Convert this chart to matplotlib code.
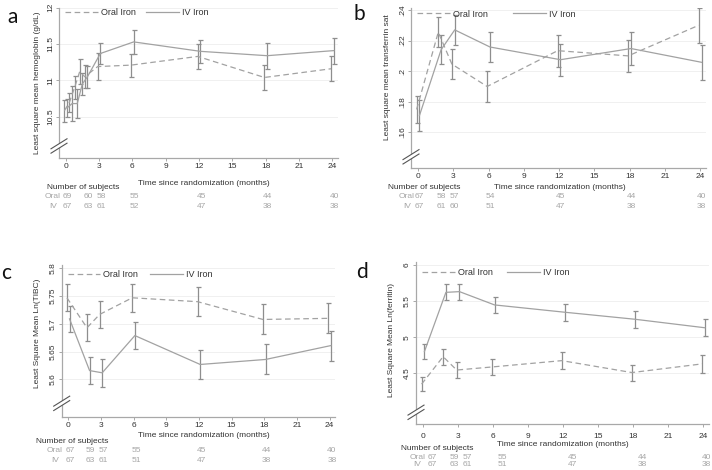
import matplotlib
matplotlib.use("Agg")
import matplotlib.pyplot as plt
import matplotlib.transforms as mtransforms
from matplotlib.lines import Line2D
from matplotlib.patches import Polygon

plt.rcParams['font.family'] = ['Liberation Sans', 'DejaVu Sans']

# =================================
# Data
# =================================
# visit times in months (early visits every 2 weeks for hemoglobin)
t_hgb = [0, 0.46, 0.92, 1.38, 1.84, 3, 6, 12, 18, 24]
t_main = [0, 1.84, 3, 6, 12, 18, 24]
xticks = [0, 3, 6, 9, 12, 15, 18, 21, 24]

# a: hemoglobin
oral_a = [10.58, 10.70, 10.90, 11.12, 11.05, 11.19, 11.21, 11.33, 11.04, 11.16]
oral_a_err = [0.15, 0.13, 0.16, 0.17, 0.16, 0.19, 0.16, 0.17, 0.17, 0.17]
iv_a = [10.62, 10.68, 10.68, 10.95, 11.05, 11.37, 11.53, 11.40, 11.34, 11.41]
iv_a_err = [0.12, 0.24, 0.20, 0.15, 0.15, 0.15, 0.17, 0.16, 0.18, 0.18]

# b: transferrin saturation
oral_b = [0.175, 0.2255, 0.2046, 0.190, 0.2134, 0.2100, 0.2300]
oral_b_err = [0.0090, 0.0097, 0.0097, 0.0100, 0.0105, 0.0105, 0.0115]
iv_b = [0.171, 0.2140, 0.2270, 0.2158, 0.2075, 0.2148, 0.2058]
iv_b_err = [0.0100, 0.0095, 0.0096, 0.0098, 0.0105, 0.0108, 0.0115]

# c: ln(TIBC)
oral_c = [5.747, 5.693, 5.717, 5.747, 5.740, 5.708, 5.710]
oral_c_err = [0.024, 0.024, 0.025, 0.025, 0.026, 0.027, 0.027]
iv_c = [5.709, 5.616, 5.612, 5.679, 5.627, 5.636, 5.661]
iv_c_err = [0.023, 0.024, 0.025, 0.025, 0.026, 0.027, 0.027]

# d: ln(ferritin)
oral_d = [4.35, 4.73, 4.545, 4.587, 4.675, 4.51, 4.63]
oral_d_err = [0.10, 0.11, 0.11, 0.11, 0.12, 0.11, 0.12]
iv_d = [4.80, 5.62, 5.63, 5.446, 5.345, 5.248, 5.13]
iv_d_err = [0.10, 0.11, 0.11, 0.11, 0.12, 0.12, 0.12]

# number of subjects
n_times = [0, 1.84, 3, 6, 12, 18, 24]
n_oral_a = [69, 60, 58, 55, 45, 44, 40]
n_iv_a = [67, 63, 61, 52, 47, 38, 38]
n_oral_b = [67, 58, 57, 54, 45, 44, 40]
n_iv_b = [67, 61, 60, 51, 47, 38, 38]
n_oral_c = [67, 59, 57, 55, 45, 44, 40]
n_iv_c = [67, 63, 61, 51, 47, 38, 38]
n_oral_d = [67, 59, 57, 55, 45, 44, 40]
n_iv_d = [67, 63, 61, 51, 47, 38, 38]

# =================================
# Style
# =================================
W, H = 712, 470
LINE = '#a2a2a2'
BAR = '#8e8e8e'
AXC = '#a8a8a8'
NUM = '#a6a6a6'
TXT = '#333333'
SHIFT = 0.12

fig = plt.figure(figsize=(W / 100, H / 100), dpi=100)


def px(x, y):
    return x / W, 1 - y / H


def add_axes(l, t, r, b):
    return fig.add_axes([l / W, 1 - b / H, (r - l) / W, (b - t) / H])


def ftext(x, y, s, **kw):
    fig.text(*px(x, y), s, **kw)


def break_mark(ax, yfrac):
    pos = ax.get_position()
    cx = pos.x0 * W
    cy = (1 - pos.y0 - yfrac * pos.height) * H
    dx, dy, gap = 8, 5, 2.2
    a1 = [(cx - dx, cy + dy - gap), (cx + dx, cy - dy - gap)]
    a2 = [(cx - dx, cy + dy + gap), (cx + dx, cy - dy + gap)]
    poly = [px(*a1[0]), px(*a1[1]), px(*a2[1]), px(*a2[0])]
    fig.add_artist(Polygon(poly, closed=True, facecolor='white',
                           edgecolor='none', transform=fig.transFigure, zorder=5))
    for seg in (a1, a2):
        xs = [px(*p)[0] for p in seg]
        ys = [px(*p)[1] for p in seg]
        fig.add_artist(Line2D(xs, ys, color='#555555', lw=0.8,
                              transform=fig.transFigure, zorder=6))


def panel(ax, t, oral, oral_err, iv, iv_err, ylim, yticks, ylabels, ylabel,
          ylab_x, ylab_y, colsp, leg_dy, xpad=1.2):
    to = [v - SHIFT for v in t]
    ti = [v + SHIFT for v in t]
    ax.errorbar(to, oral, yerr=oral_err, fmt='none', ecolor=BAR,
                elinewidth=0.9, capsize=1.8, capthick=0.9)
    ax.errorbar(ti, iv, yerr=iv_err, fmt='none', ecolor=BAR,
                elinewidth=0.9, capsize=1.8, capthick=0.9)
    l1, = ax.plot(to, oral, color=LINE, lw=0.9, dashes=(4.5, 2.8))
    l2, = ax.plot(ti, iv, color=LINE, lw=0.9)

    ax.set_xlim(-0.6, 24.5)
    ax.set_ylim(*ylim)
    ax.set_xticks(xticks)
    ax.set_xticklabels([str(v) for v in xticks])
    ax.set_yticks(yticks)
    ax.set_yticklabels(ylabels, rotation=90, va='center')
    ax.tick_params(axis='both', labelsize=6, length=2.5, width=0.7,
                   color=AXC, labelcolor=TXT, pad=1.2)
    ax.tick_params(axis='x', pad=xpad)
    for s in ('top', 'right'):
        ax.spines[s].set_visible(False)
    for s in ('left', 'bottom'):
        ax.spines[s].set_color(AXC)
        ax.spines[s].set_linewidth(0.9)
    ax.yaxis.grid(True, color='#f0f0f0', lw=0.7)
    ax.set_axisbelow(True)
    ax.set_ylabel(ylabel, fontsize=6, color=TXT)
    ax.yaxis.set_label_coords(ylab_x, ylab_y)
    ax.legend([l1, l2], ['Oral Iron', 'IV Iron'], loc='upper left',
              bbox_to_anchor=(0.022, 1 - leg_dy), ncol=2, frameon=False,
              fontsize=6.5, handlelength=3.6, handletextpad=0.35,
              columnspacing=colsp, borderpad=0, borderaxespad=0,
              labelcolor=TXT)


def subjects(ax, xlab_x, xlab_y, nos_x, nos_y, row_x, oral_y, iv_y,
             n_oral, n_iv, off):
    ftext(xlab_x, xlab_y, 'Time since randomization (months)', fontsize=6,
          color=TXT, ha='center', va='center')
    ftext(nos_x, nos_y, 'Number of subjects', fontsize=6, color=TXT,
          ha='left', va='center')
    ftext(row_x, oral_y, 'Oral', fontsize=6, color=NUM, ha='center', va='center')
    ftext(row_x, iv_y, 'IV', fontsize=6, color=NUM, ha='center', va='center')
    tr = mtransforms.blended_transform_factory(ax.transData, fig.transFigure)
    for tt, no, ni in zip(n_times, n_oral, n_iv):
        xx = min(tt + off, 24.22)
        ax.text(xx, 1 - oral_y / H, str(no), transform=tr, fontsize=6,
                color=NUM, ha='center', va='center')
        ax.text(xx, 1 - iv_y / H, str(ni), transform=tr, fontsize=6,
                color=NUM, ha='center', va='center')


# =================================
# Panels
# =================================
ax_a = add_axes(59, 7.8, 338, 158)
panel(ax_a, t_hgb, oral_a, oral_a_err, iv_a, iv_a_err, (9.93, 12.0),
      [10.5, 11, 11.5, 12], ['10.5', '11', '11.5', '12'],
      'Least square mean hemoglobin (g/dL)', -0.066, 0.5, 1.15, 0.0)
subjects(ax_a, 204, 183, 46.7, 187.5, 53, 197, 206, n_oral_a, n_iv_a, 0.18)
break_mark(ax_a, 0.08)

ax_b = add_axes(411, 8, 706, 168)
panel(ax_b, t_main, oral_b, oral_b_err, iv_b, iv_b_err, (0.1367, 0.2413),
      [0.16, 0.18, 0.2, 0.22, 0.24], ['.16', '.18', '.2', '.22', '.24'],
      'Least square mean transferrin sat', -0.068, 0.57, 2.8, 0.01)
subjects(ax_b, 560, 187, 387.7, 187, 407, 197, 206, n_oral_b, n_iv_b, 0.12)
break_mark(ax_b, 0.07)

ax_c = add_axes(61.7, 265, 335, 416.7)
panel(ax_c, t_main, oral_c, oral_c_err, iv_c, iv_c_err, (5.533, 5.806),
      [5.6, 5.65, 5.7, 5.75, 5.8], ['5.6', '5.65', '5.7', '5.75', '5.8'],
      'Least Square Mean Ln(TIBC)', -0.076, 0.55, 1.35, 0.035)
subjects(ax_c, 204, 435.7, 36, 441.7, 55, 451, 460, n_oral_c, n_iv_c, 0.22)
break_mark(ax_c, 0.088)

ax_d = add_axes(416, 262, 709.3, 424.3)
panel(ax_d, t_main, oral_d, oral_d_err, iv_d, iv_d_err, (3.794, 6.04),
      [4.5, 5, 5.5, 6], ['4.5', '5', '5.5', '6'],
      'Least Square Mean Ln(ferritin)', -0.072, 0.52, 1.6, 0.037, xpad=3.5)
subjects(ax_d, 563, 444.3, 400.7, 448.3, 417.5, 457.3, 465, n_oral_d, n_iv_d, 0.8)
break_mark(ax_d, 0.074)

# panel letters
for letter, x, y in [('a', 13, 17), ('b', 359, 14), ('c', 6, 273), ('d', 362, 272)]:
    ftext(x, y, letter, fontsize=15, color='#111111', ha='center', va='center',
          family=['Lato', 'DejaVu Sans'])

fig.savefig('out.png', dpi=100, facecolor='white')
